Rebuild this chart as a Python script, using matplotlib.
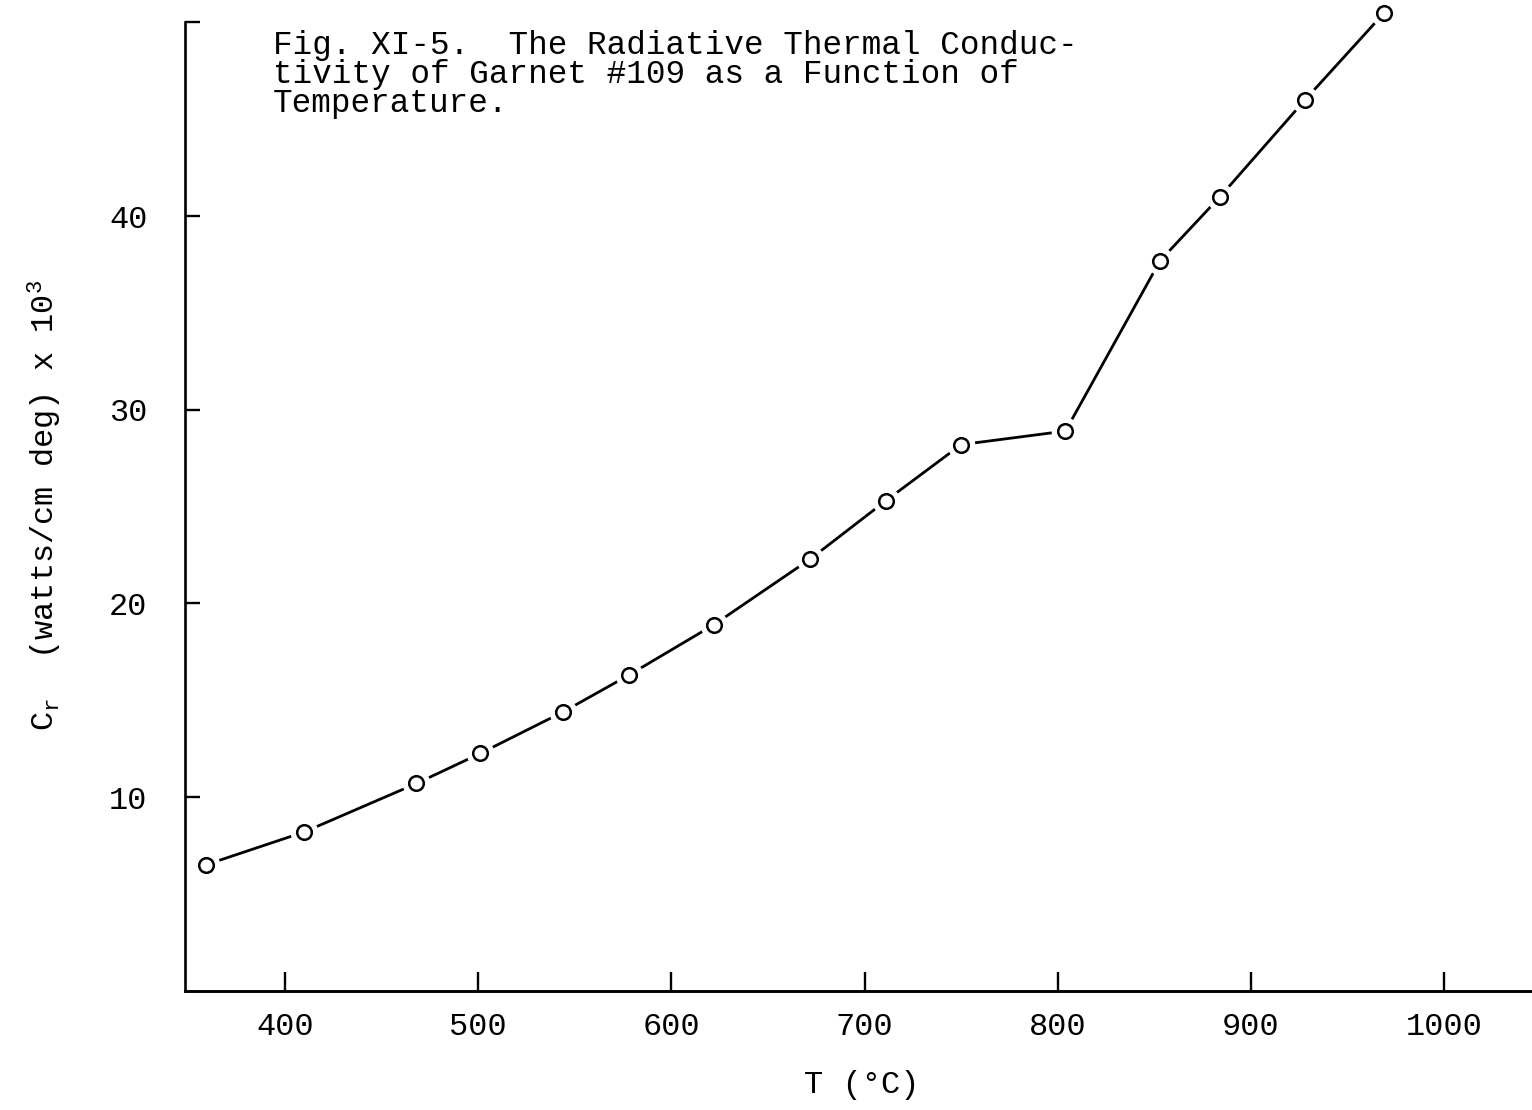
import matplotlib
matplotlib.use("Agg")
import matplotlib.pyplot as plt

# Data
temperature_c = [359, 410, 468, 501, 544, 578, 622, 672, 711, 750, 804, 853, 884, 928, 969]
cr_values = [6.5, 8.2, 10.7, 12.25, 14.4, 16.3, 18.9, 22.3, 25.3, 28.2, 28.9, 37.7, 41.0, 46.0, 50.5]
x_ticks = [400, 500, 600, 700, 800, 900, 1000]
y_ticks = [10, 20, 30, 40]

FONT = "Liberation Mono"
plt.rcParams["font.family"] = [FONT, "DejaVu Sans Mono"]
plt.rcParams["mathtext.fontset"] = "custom"
plt.rcParams["mathtext.rm"] = FONT
plt.rcParams["mathtext.it"] = FONT

fig = plt.figure(figsize=(15.32, 11.10), dpi=100)
ax = fig.add_axes([185 / 1532, 1 - 990.7 / 1110, 1 - 185 / 1532, (990.7 - 6) / 1110])
ax.set_xlim(348.2, 1045.5)
ax.set_ylim(0, 50.85)

ax.plot(temperature_c, cr_values, color="black", lw=2.0, zorder=2)
ax.plot(temperature_c, cr_values, ls="none", marker="o", ms=19, mfc="white", mec="white", zorder=3, clip_on=False)
ax.plot(temperature_c, cr_values, ls="none", marker="o", ms=10.5, mfc="white", mec="black", mew=1.8, zorder=4, clip_on=False)

for s in ["top", "right"]:
    ax.spines[s].set_visible(False)
ax.spines["left"].set_linewidth(1.9)
ax.spines["bottom"].set_linewidth(2.1)
ax.spines["left"].set_bounds(0, 50)

ax.set_xticks(x_ticks)
ax.set_xticklabels([str(v) for v in x_ticks])
ax.set_yticks(y_ticks + [50])
ax.set_yticklabels([str(v) for v in y_ticks] + [""])
ax.tick_params(axis="x", direction="in", length=14, width=1.7, pad=15, labelsize=23)
ax.tick_params(axis="y", direction="in", length=11, width=1.7, pad=27, labelsize=23)

fig.text(45 / 1532, 1 - 505 / 1110, r"C$_\mathrm{r}$  (watts/cm deg) x 10$^3$",
         rotation=90, ha="center", va="center", fontsize=23)
fig.text(862 / 1532, 1 - 1085 / 1110, "T (°C)", ha="center", va="center", fontsize=23)

fig.text(273 / 1532, 1 - 30 / 1110,
         "Fig. XI-5.  The Radiative Thermal Conduc-\ntivity of Garnet #109 as a Function of\nTemperature.",
         ha="left", va="top", fontsize=23.5, linespacing=0.92)

fig.savefig("out.png", dpi=100, facecolor="white")
